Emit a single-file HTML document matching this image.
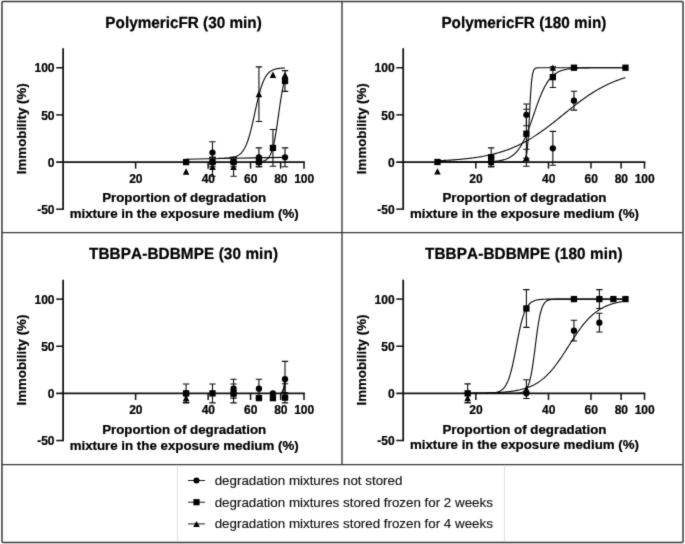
<!DOCTYPE html>
<html><head><meta charset="utf-8"><title>Immobility charts</title>
<style>
html,body{margin:0;padding:0;background:#fff;}
body{width:685px;height:544px;overflow:hidden;font-family:"Liberation Sans", sans-serif;}
svg{display:block;}
text{font-family:"Liberation Sans", sans-serif;font-kerning:none;fill:#000;stroke:#000;stroke-width:0.22px;}
.tk{font-size:12px;font-weight:bold;}
.al{font-size:13.3px;font-weight:bold;}
.tt{font-size:15.3px;font-weight:bold;text-rendering:geometricPrecision;}
.lg{font-size:13.35px;font-weight:normal;fill:#111;stroke:#111;stroke-width:0.15px;}
.cv{fill:none;stroke:#0a0a0a;stroke-width:1.12;stroke-linejoin:round;}
.eb{fill:none;stroke:#0d0d0d;stroke-width:1.1;}
</style></head><body>
<svg style="will-change:transform" width="685" height="544" viewBox="0 0 685 544">
<defs><filter id="soft" x="0" y="0" width="685" height="544" filterUnits="userSpaceOnUse" color-interpolation-filters="sRGB"><feConvolveMatrix order="3" kernelMatrix="0.02 0.08 0.02 0.08 0.6 0.08 0.02 0.08 0.02" edgeMode="duplicate" preserveAlpha="true"/></filter></defs>
<g filter="url(#soft)">
<rect x="0" y="0" width="685" height="544" fill="#fff"/>
<rect x="1.95" y="1.5" width="681.1" height="540.9" rx="0.8" fill="none" stroke="#3a3a3a" stroke-width="1.5"/>
<path d="M1.95 232.6H683M1.95 464.6H683M342 1.5V464.6" stroke="#3a3a3a" stroke-width="1.4" fill="none"/>
<path d="M177.4 465V541.5M504.5 465V541.5" stroke="#e0e0e0" stroke-width="1" fill="none"/>
<path d="M63.1 48.31V209.89" stroke="#111" stroke-width="1.75" fill="none"/>
<path d="M56.2 162.05H304.8" stroke="#111" stroke-width="1.75" fill="none"/>
<path d="M56.2 67.77H63.1" stroke="#111" stroke-width="1.5" fill="none"/>
<path d="M56.2 114.91H63.1" stroke="#111" stroke-width="1.5" fill="none"/>
<path d="M56.2 209.19H63.1" stroke="#111" stroke-width="1.5" fill="none"/>
<text x="54.5" y="72.47" text-anchor="end" class="tk">100</text>
<text x="54.5" y="119.61" text-anchor="end" class="tk">50</text>
<text x="54.5" y="166.75" text-anchor="end" class="tk">0</text>
<text x="54.5" y="213.89" text-anchor="end" class="tk">-50</text>
<path d="M135.62 162.05V168.65" stroke="#111" stroke-width="1.5" fill="none"/>
<text x="135.82" y="182.55" text-anchor="middle" class="tk">20</text>
<path d="M208.14 162.05V168.65" stroke="#111" stroke-width="1.5" fill="none"/>
<text x="208.34" y="182.55" text-anchor="middle" class="tk">40</text>
<path d="M250.56 162.05V168.65" stroke="#111" stroke-width="1.5" fill="none"/>
<text x="250.76" y="182.55" text-anchor="middle" class="tk">60</text>
<path d="M280.65 162.05V168.65" stroke="#111" stroke-width="1.5" fill="none"/>
<text x="280.85" y="182.55" text-anchor="middle" class="tk">80</text>
<path d="M304 162.05V168.65" stroke="#111" stroke-width="1.5" fill="none"/>
<text x="304.2" y="182.55" text-anchor="middle" class="tk">100</text>
<text transform="translate(183.55 27.55) scale(1 1.05)" text-anchor="middle" class="tt">PolymericFR (30 min)</text>
<text x="184.15" y="202.45" text-anchor="middle" class="al">Proportion of degradation</text>
<text x="184.15" y="218.15" text-anchor="middle" class="al">mixture in the exposure medium (%)</text>
<text transform="translate(26.3 128.75) rotate(-90)" text-anchor="middle" class="al">Immobility (%)</text>
<path d="M186.09 159.22L233.55 158.28L285.01 157.34" class="cv"/>
<path d="M218.11 158.32L218.53 158.32L218.94 158.31L219.36 158.31L219.78 158.3L220.2 158.29L220.62 158.29L221.03 158.28L221.45 158.27L221.87 158.26L222.29 158.25L222.71 158.24L223.13 158.23L223.54 158.22L223.96 158.2L224.38 158.19L224.8 158.17L225.22 158.15L225.63 158.13L226.05 158.11L226.47 158.09L226.89 158.06L227.31 158.04L227.72 158.01L228.14 157.98L228.56 157.94L228.98 157.9L229.4 157.86L229.82 157.81L230.23 157.77L230.65 157.71L231.07 157.65L231.49 157.59L231.91 157.52L232.32 157.45L232.74 157.37L233.16 157.28L233.58 157.18L234 157.08L234.41 156.96L234.83 156.84L235.25 156.71L235.67 156.56L236.09 156.4L236.51 156.23L236.92 156.05L237.34 155.85L237.76 155.63L238.18 155.39L238.6 155.14L239.01 154.86L239.43 154.56L239.85 154.24L240.27 153.89L240.69 153.51L241.11 153.11L241.52 152.67L241.94 152.19L242.36 151.69L242.78 151.14L243.2 150.55L243.61 149.92L244.03 149.25L244.45 148.52L244.87 147.75L245.29 146.93L245.7 146.05L246.12 145.11L246.54 144.12L246.96 143.07L247.38 141.95L247.8 140.78L248.21 139.54L248.63 138.24L249.05 136.87L249.47 135.45L249.89 133.96L250.3 132.41L250.72 130.8L251.14 129.14L251.56 127.43L251.98 125.68L252.39 123.88L252.81 122.04L253.23 120.18L253.65 118.28L254.07 116.37L254.49 114.45L254.9 112.52L255.32 110.6L255.74 108.68L256.16 106.78L256.58 104.9L256.99 103.05L257.41 101.23L257.83 99.46L258.25 97.73L258.67 96.05L259.08 94.42L259.5 92.84L259.92 91.33L260.34 89.88L260.76 88.48L261.18 87.16L261.59 85.89L262.01 84.69L262.43 83.55L262.85 82.47L263.27 81.45L263.68 80.49L264.1 79.59L264.52 78.74L264.94 77.95L265.36 77.2L265.77 76.51L266.19 75.86L266.61 75.25L267.03 74.69L267.45 74.16L267.87 73.68L268.28 73.22L268.7 72.8L269.12 72.41L269.54 72.05L269.96 71.72L270.37 71.41L270.79 71.12L271.21 70.86L271.63 70.61L272.05 70.39L272.46 70.18L272.88 69.99L273.3 69.81L273.72 69.65L274.14 69.5L274.56 69.36L274.97 69.23L275.39 69.11L275.81 69.01L276.23 68.91L276.65 68.81L277.06 68.73L277.48 68.65L277.9 68.58L278.32 68.52L278.74 68.46L279.16 68.4L279.57 68.35L279.99 68.3L280.41 68.26L280.83 68.22L281.25 68.18L281.66 68.15L282.08 68.12L282.5 68.09L282.92 68.06L283.34 68.04L283.75 68.02L284.17 68L284.59 67.98L285.01 67.96" class="cv"/>
<path d="M250.56 162.03L250.77 162.03L250.99 162.03L251.2 162.03L251.42 162.02L251.63 162.02L251.85 162.02L252.06 162.02L252.28 162.02L252.49 162.01L252.71 162.01L252.93 162.01L253.14 162.01L253.36 162L253.57 162L253.79 162L254 161.99L254.22 161.99L254.43 161.99L254.65 161.98L254.86 161.98L255.08 161.97L255.29 161.97L255.51 161.96L255.72 161.95L255.94 161.95L256.16 161.94L256.37 161.93L256.59 161.93L256.8 161.92L257.02 161.91L257.23 161.9L257.45 161.89L257.66 161.88L257.88 161.87L258.09 161.85L258.31 161.84L258.52 161.83L258.74 161.81L258.95 161.8L259.17 161.78L259.39 161.76L259.6 161.74L259.82 161.72L260.03 161.7L260.25 161.68L260.46 161.65L260.68 161.62L260.89 161.6L261.11 161.56L261.32 161.53L261.54 161.5L261.75 161.46L261.97 161.42L262.18 161.38L262.4 161.33L262.61 161.29L262.83 161.24L263.05 161.18L263.26 161.12L263.48 161.06L263.69 161L263.91 160.93L264.12 160.85L264.34 160.77L264.55 160.69L264.77 160.6L264.98 160.5L265.2 160.4L265.41 160.29L265.63 160.18L265.84 160.05L266.06 159.92L266.28 159.78L266.49 159.63L266.71 159.48L266.92 159.31L267.14 159.13L267.35 158.94L267.57 158.74L267.78 158.52L268 158.3L268.21 158.06L268.43 157.8L268.64 157.53L268.86 157.24L269.07 156.93L269.29 156.61L269.51 156.27L269.72 155.9L269.94 155.52L270.15 155.11L270.37 154.68L270.58 154.23L270.8 153.75L271.01 153.24L271.23 152.71L271.44 152.15L271.66 151.56L271.87 150.93L272.09 150.28L272.3 149.59L272.52 148.87L272.74 148.12L272.95 147.33L273.17 146.5L273.38 145.64L273.6 144.74L273.81 143.8L274.03 142.83L274.24 141.81L274.46 140.76L274.67 139.67L274.89 138.54L275.1 137.37L275.32 136.17L275.53 134.93L275.75 133.66L275.97 132.35L276.18 131.01L276.4 129.64L276.61 128.25L276.83 126.82L277.04 125.38L277.26 123.91L277.47 122.42L277.69 120.92L277.9 119.41L278.12 117.88L278.33 116.36L278.55 114.82L278.76 113.29L278.98 111.76L279.2 110.24L279.41 108.73L279.63 107.23L279.84 105.74L280.06 104.28L280.27 102.83L280.49 101.41L280.7 100.02L280.92 98.66L281.13 97.32L281.35 96.02L281.56 94.75L281.78 93.51L281.99 92.31L282.21 91.15L282.42 90.03L282.64 88.94L282.86 87.89L283.07 86.88L283.29 85.91L283.5 84.98L283.72 84.08L283.93 83.22L284.15 82.4L284.36 81.61L284.58 80.86L284.79 80.15L285.01 79.46" class="cv"/>
<path d="M186.09 168.18L189.39 174.63H182.79Z" fill="#000"/>
<path d="M212.49 157.34V176.19M209.29 157.34H215.69M209.29 176.19H215.69" class="eb"/>
<path d="M212.49 163.46L215.79 169.91H209.19Z" fill="#000"/>
<path d="M233.55 157.34V176.19M230.35 157.34H236.75M230.35 176.19H236.75" class="eb"/>
<path d="M233.55 163.46L236.85 169.91H230.25Z" fill="#000"/>
<path d="M258.93 66.83V121.51M255.73 66.83H262.13M255.73 121.51H262.13" class="eb"/>
<path d="M258.93 90.87L262.23 97.32H255.63Z" fill="#000"/>
<path d="M272.92 71.45L276.22 77.9H269.62Z" fill="#000"/>
<path d="M285.01 71.64L288.31 78.09H281.71Z" fill="#000"/>
<path d="M212.49 141.78V163.46M209.29 141.78H215.69M209.29 163.46H215.69" class="eb"/>
<circle cx="212.49" cy="152.62" r="3.15" fill="#000"/>
<circle cx="233.55" cy="162.05" r="3.15" fill="#000"/>
<path d="M258.93 147.91V166.76M255.73 147.91H262.13M255.73 166.76H262.13" class="eb"/>
<circle cx="258.93" cy="157.34" r="3.15" fill="#000"/>
<path d="M285.01 147.91V166.76M281.81 147.91H288.21M281.81 166.76H288.21" class="eb"/>
<circle cx="285.01" cy="157.34" r="3.15" fill="#000"/>
<rect x="182.94" y="158.9" width="6.3" height="6.3" fill="#000"/>
<path d="M212.49 157.34V166.76M209.29 157.34H215.69M209.29 166.76H215.69" class="eb"/>
<rect x="209.34" y="158.9" width="6.3" height="6.3" fill="#000"/>
<path d="M233.55 157.34V166.76M230.35 157.34H236.75M230.35 166.76H236.75" class="eb"/>
<rect x="230.4" y="158.9" width="6.3" height="6.3" fill="#000"/>
<path d="M258.93 157.34V166.76M255.73 157.34H262.13M255.73 166.76H262.13" class="eb"/>
<rect x="255.78" y="158.9" width="6.3" height="6.3" fill="#000"/>
<path d="M272.92 129.52V166.29M269.72 129.52H276.12M269.72 166.29H276.12" class="eb"/>
<rect x="269.77" y="144.76" width="6.3" height="6.3" fill="#000"/>
<path d="M285.01 70.6V91.34M281.81 70.6H288.21M281.81 91.34H288.21" class="eb"/>
<rect x="281.86" y="77.82" width="6.3" height="6.3" fill="#000"/>
<path d="M403.2 48.26V209.84" stroke="#111" stroke-width="1.75" fill="none"/>
<path d="M396.3 162H645.3" stroke="#111" stroke-width="1.75" fill="none"/>
<path d="M396.3 67.72H403.2" stroke="#111" stroke-width="1.5" fill="none"/>
<path d="M396.3 114.86H403.2" stroke="#111" stroke-width="1.5" fill="none"/>
<path d="M396.3 209.14H403.2" stroke="#111" stroke-width="1.5" fill="none"/>
<text x="394.6" y="72.42" text-anchor="end" class="tk">100</text>
<text x="394.6" y="119.56" text-anchor="end" class="tk">50</text>
<text x="394.6" y="166.7" text-anchor="end" class="tk">0</text>
<text x="394.6" y="213.84" text-anchor="end" class="tk">-50</text>
<path d="M475.84 162V168.6" stroke="#111" stroke-width="1.5" fill="none"/>
<text x="476.04" y="182.5" text-anchor="middle" class="tk">20</text>
<path d="M548.48 162V168.6" stroke="#111" stroke-width="1.5" fill="none"/>
<text x="548.68" y="182.5" text-anchor="middle" class="tk">40</text>
<path d="M590.97 162V168.6" stroke="#111" stroke-width="1.5" fill="none"/>
<text x="591.17" y="182.5" text-anchor="middle" class="tk">60</text>
<path d="M621.12 162V168.6" stroke="#111" stroke-width="1.5" fill="none"/>
<text x="621.32" y="182.5" text-anchor="middle" class="tk">80</text>
<path d="M644.5 162V168.6" stroke="#111" stroke-width="1.5" fill="none"/>
<text x="644.7" y="182.5" text-anchor="middle" class="tk">100</text>
<text transform="translate(523.85 27.5) scale(1 1.05)" text-anchor="middle" class="tt">PolymericFR (180 min)</text>
<text x="524.45" y="202.4" text-anchor="middle" class="al">Proportion of degradation</text>
<text x="524.45" y="218.1" text-anchor="middle" class="al">mixture in the exposure medium (%)</text>
<text transform="translate(366.4 128.7) rotate(-90)" text-anchor="middle" class="al">Immobility (%)</text>
<path d="M437.48 160.75L438.66 160.7L439.83 160.65L441.01 160.59L442.18 160.53L443.36 160.48L444.53 160.41L445.71 160.35L446.88 160.28L448.06 160.21L449.23 160.14L450.41 160.07L451.58 159.99L452.76 159.91L453.93 159.82L455.11 159.73L456.28 159.64L457.46 159.55L458.63 159.45L459.81 159.35L460.98 159.24L462.16 159.13L463.33 159.02L464.51 158.9L465.68 158.78L466.86 158.65L468.03 158.52L469.21 158.38L470.38 158.23L471.56 158.09L472.73 157.93L473.91 157.77L475.08 157.61L476.26 157.43L477.43 157.25L478.61 157.07L479.78 156.88L480.96 156.68L482.13 156.47L483.31 156.26L484.48 156.04L485.66 155.81L486.83 155.57L488.01 155.32L489.18 155.07L490.36 154.8L491.53 154.53L492.71 154.25L493.88 153.96L495.06 153.66L496.23 153.34L497.41 153.02L498.58 152.69L499.76 152.34L500.93 151.99L502.11 151.62L503.28 151.24L504.46 150.85L505.63 150.45L506.81 150.03L507.98 149.6L509.16 149.16L510.33 148.71L511.51 148.24L512.68 147.76L513.86 147.27L515.03 146.76L516.21 146.23L517.38 145.7L518.56 145.15L519.73 144.58L520.91 144L522.08 143.4L523.26 142.79L524.43 142.17L525.61 141.53L526.78 140.88L527.96 140.21L529.13 139.52L530.31 138.83L531.48 138.11L532.66 137.39L533.83 136.64L535.01 135.89L536.18 135.12L537.36 134.34L538.53 133.54L539.7 132.73L540.88 131.91L542.05 131.08L543.23 130.24L544.4 129.38L545.58 128.51L546.75 127.64L547.93 126.75L549.1 125.86L550.28 124.95L551.45 124.04L552.63 123.12L553.8 122.2L554.98 121.27L556.15 120.33L557.33 119.39L558.5 118.45L559.68 117.5L560.85 116.55L562.03 115.6L563.2 114.65L564.38 113.7L565.55 112.75L566.73 111.8L567.9 110.85L569.08 109.91L570.25 108.97L571.43 108.04L572.6 107.11L573.78 106.18L574.95 105.27L576.13 104.36L577.3 103.46L578.48 102.57L579.65 101.69L580.83 100.82L582 99.95L583.18 99.1L584.35 98.26L585.53 97.44L586.7 96.62L587.88 95.82L589.05 95.03L590.23 94.25L591.4 93.49L592.58 92.74L593.75 92.01L594.93 91.29L596.1 90.58L597.28 89.89L598.45 89.21L599.63 88.55L600.8 87.9L601.98 87.27L603.15 86.65L604.33 86.05L605.5 85.46L606.68 84.88L607.85 84.32L609.03 83.78L610.2 83.25L611.38 82.73L612.55 82.23L613.73 81.74L614.9 81.27L616.08 80.8L617.25 80.36L618.43 79.92L619.6 79.5L620.78 79.09L621.95 78.69L623.13 78.31L624.3 77.93L625.48 77.57" class="cv"/>
<path d="M437.48 162L438.66 162L439.83 162L441.01 162L442.18 162L443.36 162L444.53 162L445.71 162L446.88 162L448.06 162L449.23 162L450.41 162L451.58 162L452.76 162L453.93 162L455.11 161.99L456.28 161.99L457.46 161.99L458.63 161.99L459.81 161.99L460.98 161.99L462.16 161.99L463.33 161.98L464.51 161.98L465.68 161.98L466.86 161.98L468.03 161.97L469.21 161.97L470.38 161.96L471.56 161.96L472.73 161.95L473.91 161.94L475.08 161.93L476.26 161.92L477.43 161.91L478.61 161.9L479.78 161.88L480.96 161.86L482.13 161.84L483.31 161.82L484.48 161.79L485.66 161.76L486.83 161.72L488.01 161.67L489.18 161.62L490.36 161.56L491.53 161.49L492.71 161.41L493.88 161.32L495.06 161.22L496.23 161.1L497.41 160.96L498.58 160.8L499.76 160.61L500.93 160.39L502.11 160.15L503.28 159.86L504.46 159.54L505.63 159.16L506.81 158.73L507.98 158.24L509.16 157.68L510.33 157.03L511.51 156.3L512.68 155.47L513.86 154.53L515.03 153.46L516.21 152.26L517.38 150.91L518.56 149.4L519.73 147.72L520.91 145.87L522.08 143.82L523.26 141.59L524.43 139.16L525.61 136.54L526.78 133.75L527.96 130.78L529.13 127.67L530.31 124.43L531.48 121.09L532.66 117.69L533.83 114.25L535.01 110.83L536.18 107.44L537.36 104.14L538.53 100.94L539.7 97.87L540.88 94.97L542.05 92.23L543.23 89.68L544.4 87.32L545.58 85.16L546.75 83.18L547.93 81.39L549.1 79.77L550.28 78.32L551.45 77.02L552.63 75.87L553.8 74.85L554.98 73.95L556.15 73.15L557.33 72.45L558.5 71.84L559.68 71.3L560.85 70.83L562.03 70.42L563.2 70.06L564.38 69.75L565.55 69.48L566.73 69.25L567.9 69.04L569.08 68.87L570.25 68.71L571.43 68.58L572.6 68.46L573.78 68.36L574.95 68.28L576.13 68.2L577.3 68.14L578.48 68.08L579.65 68.03L580.83 67.99L582 67.95L583.18 67.92L584.35 67.89L585.53 67.87L586.7 67.85L587.88 67.83L589.05 67.82L590.23 67.8L591.4 67.79L592.58 67.78L593.75 67.77L594.93 67.77L596.1 67.76L597.28 67.76L598.45 67.75L599.63 67.75L600.8 67.74L601.98 67.74L603.15 67.74L604.33 67.73L605.5 67.73L606.68 67.73L607.85 67.73L609.03 67.73L610.2 67.73L611.38 67.73L612.55 67.73L613.73 67.72L614.9 67.72L616.08 67.72L617.25 67.72L618.43 67.72L619.6 67.72L620.78 67.72L621.95 67.72L623.13 67.72L624.3 67.72L625.48 67.72" class="cv"/>
<path d="M437.48 162L438.66 162L439.83 162L441.01 162L442.18 162L443.36 162L444.53 162L445.71 162L446.88 162L448.06 162L449.23 162L450.41 162L451.58 162L452.76 162L453.93 162L455.11 162L456.28 162L457.46 162L458.63 162L459.81 162L460.98 162L462.16 162L463.33 162L464.51 162L465.68 162L466.86 162L468.03 162L469.21 162L470.38 162L471.56 162L472.73 162L473.91 162L475.08 162L476.26 162L477.43 162L478.61 162L479.78 162L480.96 162L482.13 162L483.31 162L484.48 162L485.66 162L486.83 162L488.01 162L489.18 162L490.36 162L491.53 162L492.71 162L493.88 162L495.06 162L496.23 162L497.41 162L498.58 162L499.76 162L500.93 162L502.11 162L503.28 162L504.46 162L505.63 162L506.81 162L507.98 162L509.16 162L510.33 162L511.51 162L512.68 162L513.86 162L515.03 162L516.21 162L517.38 162L518.56 161.99L519.73 161.98L520.91 161.94L522.08 161.83L523.26 161.54L524.43 160.75L525.61 158.65L526.78 153.34L527.96 141.52L529.13 121.25L530.31 98.25L531.48 81.74L532.66 73.36L533.83 69.86L535.01 68.51L536.18 68.01L537.36 67.83L538.53 67.76L539.7 67.73L540.88 67.73L542.05 67.72L543.23 67.72L544.4 67.72L545.58 67.72L546.75 67.72L547.93 67.72L549.1 67.72L550.28 67.72L551.45 67.72L552.63 67.72L553.8 67.72L554.98 67.72L556.15 67.72L557.33 67.72L558.5 67.72L559.68 67.72L560.85 67.72L562.03 67.72L563.2 67.72L564.38 67.72L565.55 67.72L566.73 67.72L567.9 67.72L569.08 67.72L570.25 67.72L571.43 67.72L572.6 67.72L573.78 67.72L574.95 67.72L576.13 67.72L577.3 67.72L578.48 67.72L579.65 67.72L580.83 67.72L582 67.72L583.18 67.72L584.35 67.72L585.53 67.72L586.7 67.72L587.88 67.72L589.05 67.72L590.23 67.72L591.4 67.72L592.58 67.72L593.75 67.72L594.93 67.72L596.1 67.72L597.28 67.72L598.45 67.72L599.63 67.72L600.8 67.72L601.98 67.72L603.15 67.72L604.33 67.72L605.5 67.72L606.68 67.72L607.85 67.72L609.03 67.72L610.2 67.72L611.38 67.72L612.55 67.72L613.73 67.72L614.9 67.72L616.08 67.72L617.25 67.72L618.43 67.72L619.6 67.72L620.78 67.72L621.95 67.72L623.13 67.72L624.3 67.72L625.48 67.72" class="cv"/>
<path d="M437.48 168.13L440.78 174.58H434.18Z" fill="#000"/>
<path d="M491.17 158.7L494.47 165.15H487.87Z" fill="#000"/>
<path d="M526.39 149.27V166.24M523.19 149.27H529.59M523.19 166.24H529.59" class="eb"/>
<path d="M526.39 154.46L529.69 160.91H523.09Z" fill="#000"/>
<path d="M552.84 64.42L556.14 70.87H549.54Z" fill="#000"/>
<path d="M491.17 157.29V166.71M487.97 157.29H494.37M487.97 166.71H494.37" class="eb"/>
<circle cx="491.17" cy="162" r="3.15" fill="#000"/>
<path d="M526.39 104.02V125.7M523.19 104.02H529.59M523.19 125.7H529.59" class="eb"/>
<circle cx="526.39" cy="114.86" r="3.15" fill="#000"/>
<path d="M552.84 131.36V165.3M549.64 131.36H556.04M549.64 165.3H556.04" class="eb"/>
<circle cx="552.84" cy="148.33" r="3.15" fill="#000"/>
<path d="M573.94 91.29V110.15M570.74 91.29H577.14M570.74 110.15H577.14" class="eb"/>
<circle cx="573.94" cy="100.72" r="3.15" fill="#000"/>
<rect x="434.33" y="158.85" width="6.3" height="6.3" fill="#000"/>
<path d="M491.17 147.86V166.71M487.97 147.86H494.37M487.97 166.71H494.37" class="eb"/>
<rect x="488.02" y="154.14" width="6.3" height="6.3" fill="#000"/>
<path d="M526.39 109.2V158.23M523.19 109.2H529.59M523.19 158.23H529.59" class="eb"/>
<rect x="523.24" y="130.57" width="6.3" height="6.3" fill="#000"/>
<path d="M552.84 66.78V87.52M549.64 66.78H556.04M549.64 87.52H556.04" class="eb"/>
<rect x="549.69" y="74" width="6.3" height="6.3" fill="#000"/>
<rect x="570.79" y="64.57" width="6.3" height="6.3" fill="#000"/>
<rect x="622.33" y="64.57" width="6.3" height="6.3" fill="#000"/>
<path d="M63.1 279.66V441.24" stroke="#111" stroke-width="1.75" fill="none"/>
<path d="M56.2 393.4H304.8" stroke="#111" stroke-width="1.75" fill="none"/>
<path d="M56.2 299.12H63.1" stroke="#111" stroke-width="1.5" fill="none"/>
<path d="M56.2 346.26H63.1" stroke="#111" stroke-width="1.5" fill="none"/>
<path d="M56.2 440.54H63.1" stroke="#111" stroke-width="1.5" fill="none"/>
<text x="54.5" y="303.82" text-anchor="end" class="tk">100</text>
<text x="54.5" y="350.96" text-anchor="end" class="tk">50</text>
<text x="54.5" y="398.1" text-anchor="end" class="tk">0</text>
<text x="54.5" y="445.24" text-anchor="end" class="tk">-50</text>
<path d="M135.62 393.4V400" stroke="#111" stroke-width="1.5" fill="none"/>
<text x="135.82" y="413.9" text-anchor="middle" class="tk">20</text>
<path d="M208.14 393.4V400" stroke="#111" stroke-width="1.5" fill="none"/>
<text x="208.34" y="413.9" text-anchor="middle" class="tk">40</text>
<path d="M250.56 393.4V400" stroke="#111" stroke-width="1.5" fill="none"/>
<text x="250.76" y="413.9" text-anchor="middle" class="tk">60</text>
<path d="M280.65 393.4V400" stroke="#111" stroke-width="1.5" fill="none"/>
<text x="280.85" y="413.9" text-anchor="middle" class="tk">80</text>
<path d="M304 393.4V400" stroke="#111" stroke-width="1.5" fill="none"/>
<text x="304.2" y="413.9" text-anchor="middle" class="tk">100</text>
<text transform="translate(183.55 258.9) scale(1 1.05)" text-anchor="middle" class="tt" letter-spacing="0.1">TBBPA-BDBMPE (30 min)</text>
<text x="184.15" y="433.8" text-anchor="middle" class="al">Proportion of degradation</text>
<text x="184.15" y="449.5" text-anchor="middle" class="al">mixture in the exposure medium (%)</text>
<text transform="translate(26.3 360.1) rotate(-90)" text-anchor="middle" class="al">Immobility (%)</text>
<path d="M280.65 393.4L282.6 391.51L283.87 386.8L285.01 379.26" class="cv"/>
<path d="M281.95 393.4L283.87 389.63L285.01 382.09" class="cv"/>
<path d="M186.09 393.87V402.36M182.89 393.87H189.29M182.89 402.36H189.29" class="eb"/>
<path d="M186.09 394.81L189.39 401.26H182.79Z" fill="#000"/>
<path d="M233.55 390.1L236.85 396.55H230.25Z" fill="#000"/>
<path d="M285.01 383.69V395.76M281.81 383.69H288.21" class="eb"/>
<path d="M285.01 392.46L288.31 398.91H281.71Z" fill="#000"/>
<circle cx="186.09" cy="393.4" r="3.15" fill="#000"/>
<path d="M233.55 379.26V398.11M230.35 379.26H236.75M230.35 398.11H236.75" class="eb"/>
<circle cx="233.55" cy="388.69" r="3.15" fill="#000"/>
<path d="M258.93 379.26V398.11M255.73 379.26H262.13M255.73 398.11H262.13" class="eb"/>
<circle cx="258.93" cy="388.69" r="3.15" fill="#000"/>
<circle cx="272.92" cy="393.4" r="3.15" fill="#000"/>
<path d="M285.01 361.34V397.17M281.81 361.34H288.21M281.81 397.17H288.21" class="eb"/>
<circle cx="285.01" cy="379.26" r="3.15" fill="#000"/>
<path d="M186.09 383.97V402.83M182.89 383.97H189.29M182.89 402.83H189.29" class="eb"/>
<rect x="182.94" y="390.25" width="6.3" height="6.3" fill="#000"/>
<path d="M212.49 383.97V402.83M209.29 383.97H215.69M209.29 402.83H215.69" class="eb"/>
<rect x="209.34" y="390.25" width="6.3" height="6.3" fill="#000"/>
<path d="M233.55 383.97V402.83M230.35 383.97H236.75M230.35 402.83H236.75" class="eb"/>
<rect x="230.4" y="390.25" width="6.3" height="6.3" fill="#000"/>
<rect x="255.78" y="394.96" width="6.3" height="6.3" fill="#000"/>
<rect x="269.77" y="394.96" width="6.3" height="6.3" fill="#000"/>
<path d="M285.01 392.46V402.83M281.81 392.46H288.21M281.81 402.83H288.21" class="eb"/>
<rect x="281.86" y="394.49" width="6.3" height="6.3" fill="#000"/>
<path d="M403.2 279.61V441.19" stroke="#111" stroke-width="1.75" fill="none"/>
<path d="M396.3 393.35H645.3" stroke="#111" stroke-width="1.75" fill="none"/>
<path d="M396.3 299.07H403.2" stroke="#111" stroke-width="1.5" fill="none"/>
<path d="M396.3 346.21H403.2" stroke="#111" stroke-width="1.5" fill="none"/>
<path d="M396.3 440.49H403.2" stroke="#111" stroke-width="1.5" fill="none"/>
<text x="394.6" y="303.77" text-anchor="end" class="tk">100</text>
<text x="394.6" y="350.91" text-anchor="end" class="tk">50</text>
<text x="394.6" y="398.05" text-anchor="end" class="tk">0</text>
<text x="394.6" y="445.19" text-anchor="end" class="tk">-50</text>
<path d="M475.84 393.35V399.95" stroke="#111" stroke-width="1.5" fill="none"/>
<text x="476.04" y="413.85" text-anchor="middle" class="tk">20</text>
<path d="M548.48 393.35V399.95" stroke="#111" stroke-width="1.5" fill="none"/>
<text x="548.68" y="413.85" text-anchor="middle" class="tk">40</text>
<path d="M590.97 393.35V399.95" stroke="#111" stroke-width="1.5" fill="none"/>
<text x="591.17" y="413.85" text-anchor="middle" class="tk">60</text>
<path d="M621.12 393.35V399.95" stroke="#111" stroke-width="1.5" fill="none"/>
<text x="621.32" y="413.85" text-anchor="middle" class="tk">80</text>
<path d="M644.5 393.35V399.95" stroke="#111" stroke-width="1.5" fill="none"/>
<text x="644.7" y="413.85" text-anchor="middle" class="tk">100</text>
<text transform="translate(523.85 258.85) scale(1 1.05)" text-anchor="middle" class="tt" letter-spacing="0.1">TBBPA-BDBMPE (180 min)</text>
<text x="524.45" y="433.75" text-anchor="middle" class="al">Proportion of degradation</text>
<text x="524.45" y="449.45" text-anchor="middle" class="al">mixture in the exposure medium (%)</text>
<text transform="translate(366.4 360.05) rotate(-90)" text-anchor="middle" class="al">Immobility (%)</text>
<path d="M467.67 393.24L468.65 393.23L469.64 393.22L470.63 393.21L471.61 393.2L472.6 393.19L473.59 393.18L474.57 393.17L475.56 393.16L476.55 393.15L477.53 393.13L478.52 393.12L479.5 393.1L480.49 393.09L481.48 393.07L482.46 393.05L483.45 393.03L484.44 393.01L485.42 392.98L486.41 392.96L487.39 392.93L488.38 392.9L489.37 392.87L490.35 392.84L491.34 392.81L492.33 392.77L493.31 392.73L494.3 392.69L495.29 392.65L496.27 392.6L497.26 392.55L498.24 392.49L499.23 392.44L500.22 392.37L501.2 392.31L502.19 392.24L503.18 392.16L504.16 392.08L505.15 392L506.13 391.91L507.12 391.81L508.11 391.71L509.09 391.6L510.08 391.48L511.07 391.36L512.05 391.23L513.04 391.08L514.02 390.93L515.01 390.77L516 390.6L516.98 390.42L517.97 390.23L518.96 390.02L519.94 389.81L520.93 389.57L521.92 389.33L522.9 389.07L523.89 388.79L524.87 388.5L525.86 388.18L526.85 387.85L527.83 387.5L528.82 387.13L529.81 386.73L530.79 386.32L531.78 385.88L532.76 385.41L533.75 384.92L534.74 384.4L535.72 383.85L536.71 383.27L537.7 382.66L538.68 382.02L539.67 381.35L540.66 380.64L541.64 379.9L542.63 379.12L543.61 378.31L544.6 377.46L545.59 376.57L546.57 375.64L547.56 374.67L548.55 373.67L549.53 372.62L550.52 371.53L551.5 370.41L552.49 369.25L553.48 368.05L554.46 366.81L555.45 365.53L556.44 364.23L557.42 362.88L558.41 361.51L559.39 360.11L560.38 358.67L561.37 357.22L562.35 355.74L563.34 354.24L564.33 352.72L565.31 351.19L566.3 349.65L567.29 348.11L568.27 346.55L569.26 345L570.24 343.45L571.23 341.91L572.22 340.37L573.2 338.85L574.19 337.34L575.18 335.86L576.16 334.39L577.15 332.95L578.13 331.53L579.12 330.14L580.11 328.79L581.09 327.46L582.08 326.17L583.07 324.92L584.05 323.7L585.04 322.52L586.03 321.38L587.01 320.28L588 319.21L588.98 318.19L589.97 317.21L590.96 316.26L591.94 315.35L592.93 314.48L593.92 313.65L594.9 312.86L595.89 312.1L596.87 311.38L597.86 310.69L598.85 310.04L599.83 309.41L600.82 308.82L601.81 308.26L602.79 307.73L603.78 307.23L604.76 306.75L605.75 306.3L606.74 305.87L607.72 305.46L608.71 305.08L609.7 304.72L610.68 304.38L611.67 304.06L612.66 303.76L613.64 303.47L614.63 303.21L615.61 302.95L616.6 302.71L617.59 302.49L618.57 302.28L619.56 302.08L620.55 301.9L621.53 301.72L622.52 301.56L623.5 301.4L624.49 301.26L625.48 301.12" class="cv"/>
<path d="M467.67 393.35L468.65 393.35L469.64 393.35L470.63 393.35L471.61 393.35L472.6 393.34L473.59 393.34L474.57 393.34L475.56 393.34L476.55 393.34L477.53 393.33L478.52 393.33L479.5 393.33L480.49 393.32L481.48 393.31L482.46 393.3L483.45 393.29L484.44 393.28L485.42 393.26L486.41 393.24L487.39 393.21L488.38 393.17L489.37 393.13L490.35 393.08L491.34 393.01L492.33 392.92L493.31 392.82L494.3 392.69L495.29 392.53L496.27 392.33L497.26 392.08L498.24 391.77L499.23 391.38L500.22 390.91L501.2 390.32L502.19 389.61L503.18 388.72L504.16 387.65L505.15 386.34L506.13 384.76L507.12 382.87L508.11 380.63L509.09 378L510.08 374.94L511.07 371.44L512.05 367.5L513.04 363.15L514.02 358.44L515.01 353.46L516 348.3L516.98 343.1L517.97 337.96L518.96 333.03L519.94 328.38L520.93 324.11L521.92 320.26L522.9 316.85L523.89 313.87L524.87 311.32L525.86 309.15L526.85 307.32L527.83 305.8L528.82 304.54L529.81 303.51L530.79 302.66L531.78 301.97L532.76 301.41L533.75 300.95L534.74 300.59L535.72 300.29L536.71 300.05L537.7 299.86L538.68 299.7L539.67 299.58L540.66 299.48L541.64 299.4L542.63 299.33L543.61 299.28L544.6 299.24L545.59 299.21L546.57 299.18L547.56 299.16L548.55 299.14L549.53 299.13L550.52 299.11L551.5 299.11L552.49 299.1L553.48 299.09L554.46 299.09L555.45 299.08L556.44 299.08L557.42 299.08L558.41 299.08L559.39 299.08L560.38 299.07L561.37 299.07L562.35 299.07L563.34 299.07L564.33 299.07L565.31 299.07L566.3 299.07L567.29 299.07L568.27 299.07L569.26 299.07L570.24 299.07L571.23 299.07L572.22 299.07L573.2 299.07L574.19 299.07L575.18 299.07L576.16 299.07L577.15 299.07L578.13 299.07L579.12 299.07L580.11 299.07L581.09 299.07L582.08 299.07L583.07 299.07L584.05 299.07L585.04 299.07L586.03 299.07L587.01 299.07L588 299.07L588.98 299.07L589.97 299.07L590.96 299.07L591.94 299.07L592.93 299.07L593.92 299.07L594.9 299.07L595.89 299.07L596.87 299.07L597.86 299.07L598.85 299.07L599.83 299.07L600.82 299.07L601.81 299.07L602.79 299.07L603.78 299.07L604.76 299.07L605.75 299.07L606.74 299.07L607.72 299.07L608.71 299.07L609.7 299.07L610.68 299.07L611.67 299.07L612.66 299.07L613.64 299.07L614.63 299.07L615.61 299.07L616.6 299.07L617.59 299.07L618.57 299.07L619.56 299.07L620.55 299.07L621.53 299.07L622.52 299.07L623.5 299.07L624.49 299.07L625.48 299.07" class="cv"/>
<path d="M467.67 393.35L468.65 393.35L469.64 393.35L470.63 393.35L471.61 393.35L472.6 393.35L473.59 393.35L474.57 393.35L475.56 393.35L476.55 393.35L477.53 393.35L478.52 393.35L479.5 393.35L480.49 393.35L481.48 393.35L482.46 393.35L483.45 393.35L484.44 393.35L485.42 393.35L486.41 393.35L487.39 393.35L488.38 393.35L489.37 393.35L490.35 393.35L491.34 393.35L492.33 393.35L493.31 393.35L494.3 393.35L495.29 393.35L496.27 393.35L497.26 393.35L498.24 393.35L499.23 393.35L500.22 393.35L501.2 393.35L502.19 393.35L503.18 393.35L504.16 393.35L505.15 393.35L506.13 393.35L507.12 393.34L508.11 393.34L509.09 393.34L510.08 393.33L511.07 393.32L512.05 393.31L513.04 393.3L514.02 393.28L515.01 393.25L516 393.21L516.98 393.16L517.97 393.08L518.96 392.98L519.94 392.83L520.93 392.63L521.92 392.34L522.9 391.95L523.89 391.41L524.87 390.66L525.86 389.63L526.85 388.24L527.83 386.36L528.82 383.87L529.81 380.62L530.79 376.47L531.78 371.34L532.76 365.21L533.75 358.21L534.74 350.59L535.72 342.74L536.71 335.07L537.7 327.98L538.68 321.74L539.67 316.49L540.66 312.24L541.64 308.89L542.63 306.31L543.61 304.37L544.6 302.93L545.59 301.86L546.57 301.09L547.56 300.52L548.55 300.11L549.53 299.82L550.52 299.61L551.5 299.46L552.49 299.35L553.48 299.27L554.46 299.21L555.45 299.17L556.44 299.14L557.42 299.12L558.41 299.11L559.39 299.1L560.38 299.09L561.37 299.08L562.35 299.08L563.34 299.08L564.33 299.08L565.31 299.07L566.3 299.07L567.29 299.07L568.27 299.07L569.26 299.07L570.24 299.07L571.23 299.07L572.22 299.07L573.2 299.07L574.19 299.07L575.18 299.07L576.16 299.07L577.15 299.07L578.13 299.07L579.12 299.07L580.11 299.07L581.09 299.07L582.08 299.07L583.07 299.07L584.05 299.07L585.04 299.07L586.03 299.07L587.01 299.07L588 299.07L588.98 299.07L589.97 299.07L590.96 299.07L591.94 299.07L592.93 299.07L593.92 299.07L594.9 299.07L595.89 299.07L596.87 299.07L597.86 299.07L598.85 299.07L599.83 299.07L600.82 299.07L601.81 299.07L602.79 299.07L603.78 299.07L604.76 299.07L605.75 299.07L606.74 299.07L607.72 299.07L608.71 299.07L609.7 299.07L610.68 299.07L611.67 299.07L612.66 299.07L613.64 299.07L614.63 299.07L615.61 299.07L616.6 299.07L617.59 299.07L618.57 299.07L619.56 299.07L620.55 299.07L621.53 299.07L622.52 299.07L623.5 299.07L624.49 299.07L625.48 299.07" class="cv"/>
<path d="M467.67 393.35V402.78M464.47 393.35H470.87M464.47 402.78H470.87" class="eb"/>
<path d="M467.67 394.76L470.97 401.21H464.37Z" fill="#000"/>
<path d="M526.39 379.68V398.54M523.19 379.68H529.59M523.19 398.54H529.59" class="eb"/>
<path d="M526.39 385.81L529.69 392.26H523.09Z" fill="#000"/>
<circle cx="526.39" cy="393.35" r="3.15" fill="#000"/>
<path d="M573.94 320.28V341.02M570.74 320.28H577.14M570.74 341.02H577.14" class="eb"/>
<circle cx="573.94" cy="330.65" r="3.15" fill="#000"/>
<path d="M599.36 313.21V332.07M596.16 313.21H602.56M596.16 332.07H602.56" class="eb"/>
<circle cx="599.36" cy="322.64" r="3.15" fill="#000"/>
<path d="M467.67 383.92V402.78M464.47 383.92H470.87M464.47 402.78H470.87" class="eb"/>
<rect x="464.52" y="390.2" width="6.3" height="6.3" fill="#000"/>
<path d="M526.39 289.64V327.35M523.19 289.64H529.59M523.19 327.35H529.59" class="eb"/>
<rect x="523.24" y="305.35" width="6.3" height="6.3" fill="#000"/>
<rect x="570.79" y="295.92" width="6.3" height="6.3" fill="#000"/>
<path d="M599.36 289.64V308.5M596.16 289.64H602.56M596.16 308.5H602.56" class="eb"/>
<rect x="596.21" y="295.92" width="6.3" height="6.3" fill="#000"/>
<rect x="610.22" y="295.92" width="6.3" height="6.3" fill="#000"/>
<rect x="622.33" y="295.92" width="6.3" height="6.3" fill="#000"/>
<path d="M188.1 480.5H205" stroke="#1a1a1a" stroke-width="1" fill="none"/>
<circle cx="196.5" cy="480.5" r="3.05" fill="#000"/>
<text x="214.7" y="485.1" class="lg">degradation mixtures not stored</text>
<path d="M188.1 502.2H205" stroke="#1a1a1a" stroke-width="1" fill="none"/>
<rect x="193.4" y="499.09999999999997" width="6.2" height="6.2" fill="#000"/>
<text x="214.7" y="506.8" class="lg">degradation mixtures stored frozen for 2 weeks</text>
<path d="M188.1 523.9H205" stroke="#1a1a1a" stroke-width="1" fill="none"/>
<path d="M196.5 521L199.8 527H193.2Z" fill="#000"/>
<text x="214.7" y="528.3" class="lg">degradation mixtures stored frozen for 4 weeks</text>
</g>
</svg>
</body></html>
